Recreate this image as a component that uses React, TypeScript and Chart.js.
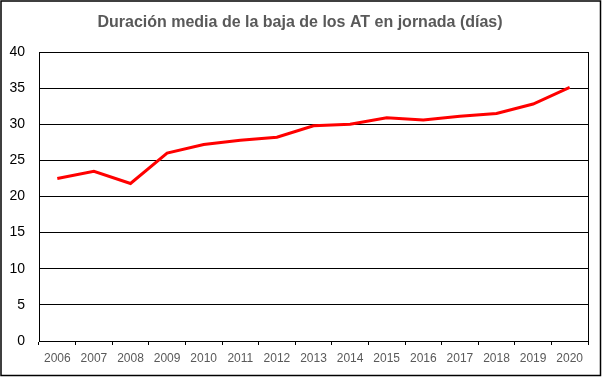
import React, { useEffect, useRef } from "react";
import { Chart, registerables } from "chart.js";

Chart.register(...registerables);

const TITLE = "Duración media de la baja de los AT en jornada (días)";
const YEARS = ["2006", "2007", "2008", "2009", "2010", "2011", "2012", "2013", "2014", "2015", "2016", "2017", "2018", "2019", "2020"];
const DURATION = [22.5, 23.5, 21.8, 26.0, 27.2, 27.8, 28.2, 29.8, 30.0, 30.9, 30.6, 31.1, 31.5, 32.8, 35.1];
const Y_MIN = 0;
const Y_MAX = 40;
const Y_STEP = 5;

const framePlugin = {
  id: "frame",
  afterDraw(chart: any) {
    const { ctx, chartArea } = chart;
    ctx.save();
    ctx.strokeStyle = "#000";
    ctx.lineWidth = 1;
    // right edge of plot area
    ctx.beginPath();
    ctx.moveTo(Math.round(chartArea.right) + 0.5, chartArea.top);
    ctx.lineTo(Math.round(chartArea.right) + 0.5, chartArea.bottom + 4);
    ctx.stroke();
    // outer border
    ctx.lineWidth = 1.5;
    ctx.strokeRect(1, 1, chart.width - 2.5, chart.height - 2.5);
    // title
    ctx.fillStyle = "#595959";
    ctx.font = "bold 16px 'Liberation Sans', Arial, sans-serif";
    ctx.textAlign = "center";
    ctx.textBaseline = "middle";
    ctx.fillText(TITLE, 300, 23);
    ctx.restore();
  },
};

export default function App() {
  const ref = useRef<HTMLCanvasElement>(null);
  useEffect(() => {
    document.body.style.margin = "0";
    const chart = new Chart(ref.current!, {
      type: "line",
      data: {
        labels: YEARS,
        datasets: [
          {
            data: DURATION,
            borderColor: "#FF0000",
            borderWidth: 3,
            pointRadius: 0,
            fill: false,
            tension: 0,
          },
        ],
      },
      options: {
        animation: false,
        responsive: false,
        layout: { padding: { top: 52, left: 0, right: 14, bottom: 0 } },
        plugins: { legend: { display: false }, title: { display: false }, tooltip: { enabled: false } },
        scales: {
          x: {
            offset: true,
            grid: { display: true, drawOnChartArea: false, drawTicks: true, tickLength: 4, color: "#000", offset: true },
            border: { color: "#000", width: 1 },
            ticks: { color: "#595959", font: { size: 12, family: "'Liberation Sans', Arial, sans-serif" }, padding: 6, maxRotation: 0, autoSkip: false },
            afterFit(scale: any) {
              scale.height = 36;
            },
          },
          y: {
            min: Y_MIN,
            max: Y_MAX,
            grid: { color: "#000", drawTicks: false, lineWidth: 1 },
            border: { color: "#000", width: 1 },
            ticks: { stepSize: Y_STEP, color: "#000", font: { size: 14, family: "'Liberation Sans', Arial, sans-serif" }, padding: 14 },
            afterFit(scale: any) {
              scale.width = 39;
            },
          },
        },
      },
      plugins: [framePlugin],
    });
    return () => chart.destroy();
  }, []);
  return (
    <div style={{ width: 602, height: 377 }}>
      <canvas ref={ref} width={602} height={377} style={{ display: "block" }} />
    </div>
  );
}
